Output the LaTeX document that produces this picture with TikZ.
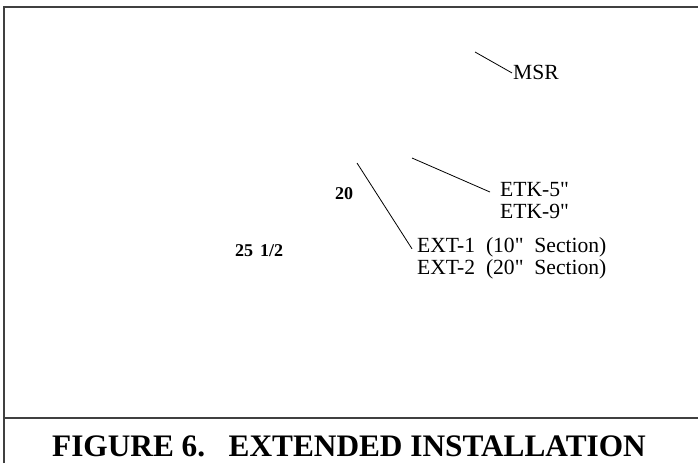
\documentclass[tikz,border=0pt]{standalone}
\usepackage{fontspec}
\setmainfont{Liberation Serif}[Ligatures=TeXOff]
\begin{document}
\begin{tikzpicture}[x=1pt,y=1pt,
  frameline/.style={draw=black!75,line width=1.3pt},
  leader/.style={draw=black,line width=0.8pt},
  lbl/.style={inner sep=0pt,anchor=base west,font=\fontsize{21.6}{24}\selectfont},
  dim/.style={inner sep=0pt,anchor=base west,font=\fontsize{18}{20}\selectfont\bfseries},
  titletext/.style={inner sep=0pt,anchor=base,font=\fontsize{31.3}{34}\selectfont\bfseries}]
\useasboundingbox (0,0) rectangle (698,463);
% frame
\draw[frameline] (4,0) -- (4,456) -- (698,456);
\draw[frameline] (4,45) -- (698,45);
% labels
\node[lbl] (msr) at (513,383) {MSR};
\node[lbl] (etk5) at (500,266) {ETK-5"};
\node[lbl] (etk9) at (500,244) {ETK-9"};
\node[lbl] (ext1) at (417,210) {EXT-1\ \ (10"\ \ Section)};
\node[lbl] (ext2) at (417,188) {EXT-2\ \ (20"\ \ Section)};
\node[dim] (d20) at (335,263) {20};
\node[dim] (d25) at (235,206) {25\hspace{7pt}1/2};
\node[titletext] (title) at (349,7) {FIGURE 6.\ \ \ EXTENDED INSTALLATION};
% leader free ends
\coordinate (msrTip) at (475,411);
\coordinate (etkTip) at (412,305);
\coordinate (extTip) at (357,300);
% leaders
\draw[leader] (msrTip) -- ([xshift=-1pt]msr.west);
\draw[leader] (etkTip) -- ([xshift=-10pt,yshift=-2pt]etk5.west);
\draw[leader] (extTip) -- ([xshift=-5pt,yshift=-1pt]ext1.west);
\end{tikzpicture}
\end{document}
